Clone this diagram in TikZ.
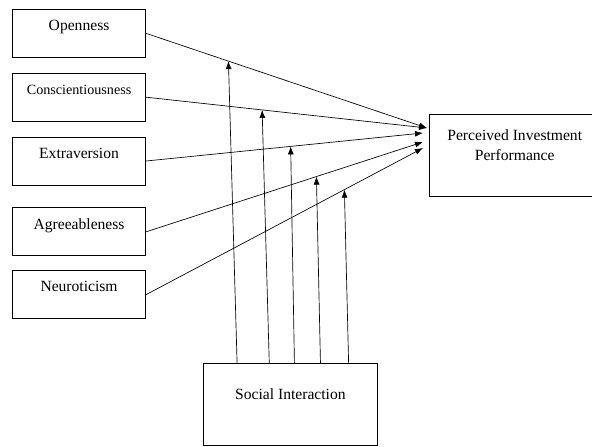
\documentclass[tikz,border=0pt]{standalone}
\usepackage{fontspec}
\setmainfont{Liberation Serif}
\usetikzlibrary{positioning}
\usetikzlibrary{calc}
\usetikzlibrary{arrows.meta}
\tikzset{
    trait/.style={draw, minimum width=100pt, inner ysep=0pt,
            text height=16pt, text depth=20pt},
    outcome/.style={draw, align=center, inner ysep=0pt},
    arrow/.style={-{Latex[length=6pt,width=4.5pt]}, line width=0.5pt}
}

\begin{document}
\begin{tikzpicture}[x=0.75pt, y=-0.75pt, line width=0.6pt, font=\fontsize{11.7}{15}\selectfont]
    \useasboundingbox (0,0) rectangle (592,446);
    \node[trait, anchor=north west] (open) at (12,9) {Openness};
    \node[trait, below=11.25pt of open, font=\fontsize{10.6}{12}\selectfont] (consc) {Conscientiousness};
    \node[trait, below=11.25pt of consc] (extra) {Extraversion};
    \node[trait, below=16.5pt of extra] (agree) {Agreeableness};
    \node[trait, below=10.5pt of agree] (neuro) {Neuroticism};
    \node[outcome, anchor=north west, minimum width=128pt, minimum height=61.5pt]
        (perf) at (429,114) {Perceived Investment\\Performance\\ };
    \node[outcome, anchor=north west, minimum width=130.5pt, text height=27pt, text depth=34.5pt]
        (social) at (203,363) {Social Interaction};
    % arrow ends at the outcome box
    \coordinate (in1) at (427,128);
    \coordinate (in2) at (423,133);
    \coordinate (in3) at (423,142);
    \coordinate (in4) at (423,148);
    \foreach \src/\dst/\pos/\base in {open/in1/0.293/0.195, consc/in1/0.413/0.379,
            extra/in2/0.522/0.523, agree/in3/0.615/0.672, neuro/in4/0.716/0.833} {
        \draw[arrow] (\src.east) -- (\dst) coordinate[pos=\pos] (m-\src);
        \draw[arrow] ($(social.north west)!\base!(social.north east)$) -- (m-\src);
    }
\end{tikzpicture}
\end{document}
